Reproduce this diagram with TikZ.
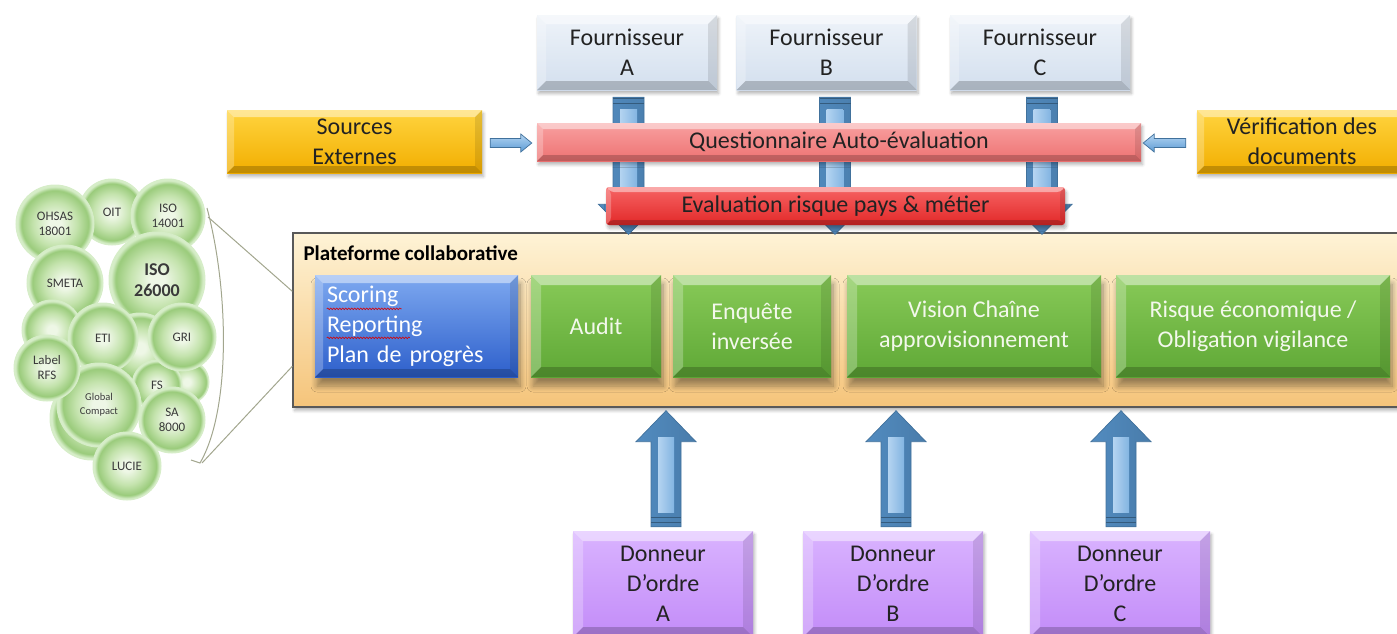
\documentclass[tikz,border=0pt]{standalone}
\usepackage{fontspec}
\setmainfont{Carlito}
\usetikzlibrary{calc,shadows.blur,decorations.pathmorphing}

\definecolor{textdark}{HTML}{222222}
\definecolor{fourn}{HTML}{D3DFEE}
\definecolor{fournL}{HTML}{EEF3F9}
\definecolor{goldL}{HTML}{FFD43F}
\definecolor{goldD}{HTML}{F2AE00}
\definecolor{pinkL}{HTML}{F8A0A0}
\definecolor{pinkD}{HTML}{EE7272}
\definecolor{redL}{HTML}{F66464}
\definecolor{redD}{HTML}{E22828}
\definecolor{platL}{HTML}{FEF3D6}
\definecolor{platD}{HTML}{F5C47A}
\definecolor{platBorder}{HTML}{595959}
\definecolor{greenL}{HTML}{88CA58}
\definecolor{greenD}{HTML}{5FA836}
\definecolor{greenText}{HTML}{F3F8EC}
\definecolor{blueL}{HTML}{7EA9F0}
\definecolor{blueD}{HTML}{2D5FCB}
\definecolor{purpL}{HTML}{D9B3FF}
\definecolor{purpD}{HTML}{C38CF8}
\definecolor{arrowL}{HTML}{B4D4F1}
\definecolor{arrowM}{HTML}{5B9BD5}
\definecolor{arrowD}{HTML}{41719C}
\definecolor{bubIn}{HTML}{EEF7E6}
\definecolor{bubMid}{HTML}{C4E3AD}
\definecolor{bubOut}{HTML}{9ACB7B}
\definecolor{bubRim}{HTML}{D6EDC8}
\definecolor{bubText}{HTML}{3A3A3A}
\definecolor{bracketcol}{HTML}{A2A68E}

% soft sphere look for the standards cluster (the path edge sits at 25bp)
\pgfdeclareradialshading{bubbleshade}{\pgfpoint{0bp}{0bp}}{%
  color(0bp)=(bubIn); color(4bp)=(bubIn); color(14bp)=(bubMid);
  color(21.5bp)=(bubOut); color(24bp)=(bubRim); color(25bp)=(bubRim); color(50bp)=(bubRim)}

\def\pb{path picture bounding box}

\tikzset{
  every node/.style={inner sep=0pt},
  mainfont/.style={font=\fontsize{24}{30}\selectfont},
  softshadow/.style={blur shadow={shadow xshift=1.5pt, shadow yshift=-3.5pt,
      shadow blur radius=3pt, shadow blur steps=6, shadow opacity=30}},
  deepshadow/.style={blur shadow={shadow xshift=2pt, shadow yshift=-9pt,
      shadow blur radius=6pt, shadow blur steps=8, shadow opacity=38}},
  bevel/.style={path picture={
    \fill[white,opacity=.45] (\pb.north west) -- (\pb.north east)
      -- ([xshift=-#1,yshift=-#1]\pb.north east) -- ([xshift=#1,yshift=-#1]\pb.north west) -- cycle;
    \fill[white,opacity=.25] (\pb.north west) -- ([xshift=#1,yshift=-#1]\pb.north west)
      -- ([xshift=#1,yshift=#1]\pb.south west) -- (\pb.south west) -- cycle;
    \fill[black,opacity=.10] (\pb.north east) -- ([xshift=-#1,yshift=-#1]\pb.north east)
      -- ([xshift=-#1,yshift=#1]\pb.south east) -- (\pb.south east) -- cycle;
    \fill[black,opacity=.20] (\pb.south west) -- ([xshift=#1,yshift=#1]\pb.south west)
      -- ([xshift=-#1,yshift=#1]\pb.south east) -- (\pb.south east) -- cycle;
  }},
  bevel/.default=8pt,
  fournbox/.style={mainfont, align=center, text=textdark, top color=fournL,
    bottom color=fourn, minimum width=180pt, minimum height=75pt, bevel=9pt, softshadow},
  yellowbox/.style={mainfont, align=center, text=textdark, top color=goldL,
    bottom color=goldD, minimum height=63pt, bevel=7pt, softshadow},
  questbar/.style={mainfont, text=textdark, top color=pinkL, bottom color=pinkD,
    minimum width=604pt, minimum height=38pt, bevel=6pt, softshadow},
  evalbar/.style={mainfont, text=textdark, top color=redL, bottom color=redD,
    rounded corners=3pt, minimum width=459pt, minimum height=38pt, bevel=5pt, softshadow},
  platbox/.style={draw=platBorder, line width=1.4pt, top color=platL, bottom color=platD,
    minimum width=1114pt, minimum height=174pt, softshadow},
  platlabel/.style={font=\bfseries\fontsize{21}{24}\selectfont, text=black, anchor=west},
  greenbox/.style={mainfont, align=center, text=greenText, top color=greenL,
    bottom color=greenD, minimum height=102pt, bevel=10pt, deepshadow},
  bluebox/.style={mainfont, align=left, text=white, top color=blueL, bottom color=blueD,
    minimum height=102pt, bevel=8pt, deepshadow},
  donneurbox/.style={mainfont, align=center, text=textdark, top color=purpL,
    bottom color=purpD, minimum width=180pt, minimum height=106pt, bevel=10pt, softshadow},
  bubble/.style={circle, shading=bubbleshade, draw=bubRim, line width=1pt, align=center,
    text=bubText, font=\fontsize{13}{15}\selectfont},
  blockarrow/.style={draw=arrowD, line width=.7pt},
  vertarrow/.style={blockarrow, left color=arrowM!90!black, middle color=arrowM!80!white,
    right color=arrowM!80!black},
  sidearrow/.style={blockarrow, top color=arrowL, bottom color=arrowM},
  arrowshine/.style={left color=arrowL, right color=arrowM!55!arrowL},
  bracketline/.style={draw=bracketcol, line width=1pt},
  squiggle/.style={draw=red!85!black, line width=.6pt,
    decorate, decoration={snake, amplitude=.8pt, segment length=3pt}},
}

% block arrow from #2 to #3: half shaft #4, half head #5, head length #6
\newcommand{\blockarrow}[6][]{%
  \coordinate (ba-s) at (#2);
  \coordinate (ba-e) at (#3);
  \coordinate (ba-h) at ($(ba-e)!#6!(ba-s)$);
  \path[#1] ($(ba-s)!#4!90:(ba-e)$) -- ($(ba-h)!#4!-90:(ba-s)$)
    -- ($(ba-h)!#5!-90:(ba-s)$) -- (ba-e) -- ($(ba-h)!#5!90:(ba-s)$)
    -- ($(ba-h)!#4!90:(ba-s)$) -- ($(ba-s)!#4!-90:(ba-e)$) -- cycle;
}
% lighter inner strip along the shaft of the last block arrow: half width #1, inset #2
\newcommand{\arrowshine}[2]{%
  \coordinate (bs-a) at ($(ba-s)!#2!(ba-e)$);
  \coordinate (bs-b) at ($(ba-h)!-4pt!(ba-s)$);
  \fill[arrowshine] ($(bs-a)!#1!90:(ba-e)$) -- ($(bs-b)!#1!-90:(ba-s)$)
    -- ($(bs-b)!#1!90:(ba-s)$) -- ($(bs-a)!#1!-90:(ba-e)$) -- cycle;
}
% two ridges across the tail of the last block arrow, at #2 and #3 from its start
\newcommand{\arrowbands}[3]{%
  \coordinate (bb-1) at ($(ba-s)!#2!(ba-e)$);
  \coordinate (bb-2) at ($(ba-s)!#3!(ba-e)$);
  \draw[arrowD!80!black, line width=1.1pt] ($(bb-1)!#1!90:(ba-e)$) -- ($(bb-1)!#1!-90:(ba-e)$)
    ($(bb-2)!#1!90:(ba-e)$) -- ($(bb-2)!#1!-90:(ba-e)$);
}

\begin{document}
\begin{tikzpicture}[x=1pt,y=-1pt]
\useasboundingbox (0,0) rectangle (1397,633);

% ---- cluster of standards ----
\node[bubble, minimum size=66pt] (oit) at (112,212) {OIT};
\node[bubble, minimum size=78pt] (ohsas) at (55,224) {OHSAS\\18001};
\node[bubble, minimum size=74pt] (iso14) at (168,216) {ISO\\14001};
\node[bubble, minimum size=76pt] (smeta) at (65,283) {SMETA};
\node[bubble, minimum size=96pt, font=\bfseries\fontsize{18}{21}\selectfont] (iso26) at (157,280) {ISO\\26000};
\node[bubble, minimum size=60pt] (blank1) at (52,330) {};
\node[bubble, minimum size=70pt] (blank2) at (140,348) {};
\node[bubble, minimum size=44pt] (blank3) at (187,382) {};
\node[bubble, minimum size=50pt] (fs) at (157,385) {FS};
\node[bubble, minimum size=70pt] (eti) at (103,338) {ETI};
\node[bubble, minimum size=68pt] (gri) at (182,337) {GRI};
\node[bubble, minimum size=84pt] (gcback) at (92,418) {};
\node[bubble, minimum size=84pt, font=\fontsize{10.5}{14}\selectfont] (gc) at (99,405) {Global\\Compact};
\node[bubble, minimum size=66pt] (rfs) at (47,368) {Label\\RFS};
\node[bubble, minimum size=66pt] (sa) at (172,420) {SA\\8000};
\node[bubble, minimum size=68pt] (lucie) at (127,466) {LUCIE};

% ---- platform ----
\node[platbox] (plat) at (850,320) {};
\node[platlabel] (platname) at ($(plat.north west)+(11,21)$) {Plateforme collaborative};

\coordinate (brt) at (207,208);
\coordinate (brb) at (200,463);
\coordinate (zt) at (208,217);
\coordinate (zb) at (202,463);
\draw[bracketline] (brt) .. controls (229,290) and (231,410) .. (brb) -- ++(-9,-3);
\draw[bracketline] (zt) -- ($(plat.north west)+(0,59)$);
\draw[bracketline] (zb) -- ($(plat.north west)+(0,134)$);

\node[bluebox, minimum width=203pt, text width=179pt] (reporting) at (416.5,326)
  {Scoring\\Reporting\\Plan de progrès};
\draw[squiggle] ($(reporting.north west)+(12,34)$) -- ($(reporting.north west)+(87,34)$);
\draw[squiggle] ($(reporting.north west)+(12,63)$) -- ($(reporting.north west)+(95,63)$);
\node[greenbox, minimum width=130pt] (audit) at (596,326) {Audit};
\node[greenbox, minimum width=158pt] (enquete) at (752,326) {Enquête\\inversée};
\node[greenbox, minimum width=254pt] (vision) at (974,326) {Vision Chaîne\\approvisionnement};
\node[greenbox, minimum width=274pt] (risque) at (1253,326) {Risque économique /\\Obligation vigilance};

% ---- ordering parties ----
\node[donneurbox] (da) at (663,584) {Donneur\\D’ordre\\A};
\node[donneurbox] (db) at (893,584) {Donneur\\D’ordre\\B};
\node[donneurbox] (dc) at (1120,584) {Donneur\\D’ordre\\C};

\blockarrow[vertarrow]{$(da.north)+(3,-4)$}{$(da.north |- plat.south)+(3,3)$}{15pt}{30pt}{31pt}
\arrowshine{8pt}{14pt}
\arrowbands{15pt}{4pt}{9pt}
\blockarrow[vertarrow]{$(db.north)+(3,-4)$}{$(db.north |- plat.south)+(3,3)$}{15pt}{30pt}{31pt}
\arrowshine{8pt}{14pt}
\arrowbands{15pt}{4pt}{9pt}
\blockarrow[vertarrow]{$(dc.north)+(1,-4)$}{$(dc.north |- plat.south)+(1,3)$}{15pt}{30pt}{31pt}
\arrowshine{8pt}{14pt}
\arrowbands{15pt}{4pt}{9pt}

% ---- suppliers ----
\node[fournbox] (fa) at (627,52.5) {Fournisseur\\A};
\node[fournbox] (fb) at (826.5,52.5) {Fournisseur\\B};
\node[fournbox] (fc) at (1040,52.5) {Fournisseur\\C};

\blockarrow[vertarrow]{$(fa.south)+(1.5,7)$}{$(fa.south |- plat.north)+(1.5,2)$}{15.5pt}{30pt}{30pt}
\arrowshine{8.5pt}{12pt}
\arrowbands{15.5pt}{1.5pt}{6pt}
\blockarrow[vertarrow]{$(fb.south)+(8.5,7)$}{$(fb.south |- plat.north)+(8.5,2)$}{15.5pt}{30pt}{30pt}
\arrowshine{8.5pt}{12pt}
\arrowbands{15.5pt}{1.5pt}{6pt}
\blockarrow[vertarrow]{$(fc.south)+(2,7)$}{$(fc.south |- plat.north)+(2,2)$}{15.5pt}{30pt}{30pt}
\arrowshine{8.5pt}{12pt}
\arrowbands{15.5pt}{1.5pt}{6pt}

% ---- questionnaire and risk bars ----
\node[questbar] (quest) at (839,142) {Questionnaire Auto-évaluation};
\node[evalbar] (risk) at (835.5,206) {Evaluation risque pays \& métier};

% ---- side inputs ----
\node[yellowbox, minimum width=255pt] (src) at (354.5,141.5) {Sources\\Externes};
\node[yellowbox, minimum width=210pt] (verif) at (1302,141.5) {Vérification des\\documents};
\blockarrow[sidearrow]{$(src.east)+(8,1.5)$}{$(src.east -| quest.west)+(-5,1.5)$}{4.5pt}{9pt}{11pt}
\blockarrow[sidearrow]{$(verif.west)+(-11,1.5)$}{$(verif.west -| quest.east)+(2,1.5)$}{4.5pt}{9pt}{11pt}

\end{tikzpicture}
\end{document}
